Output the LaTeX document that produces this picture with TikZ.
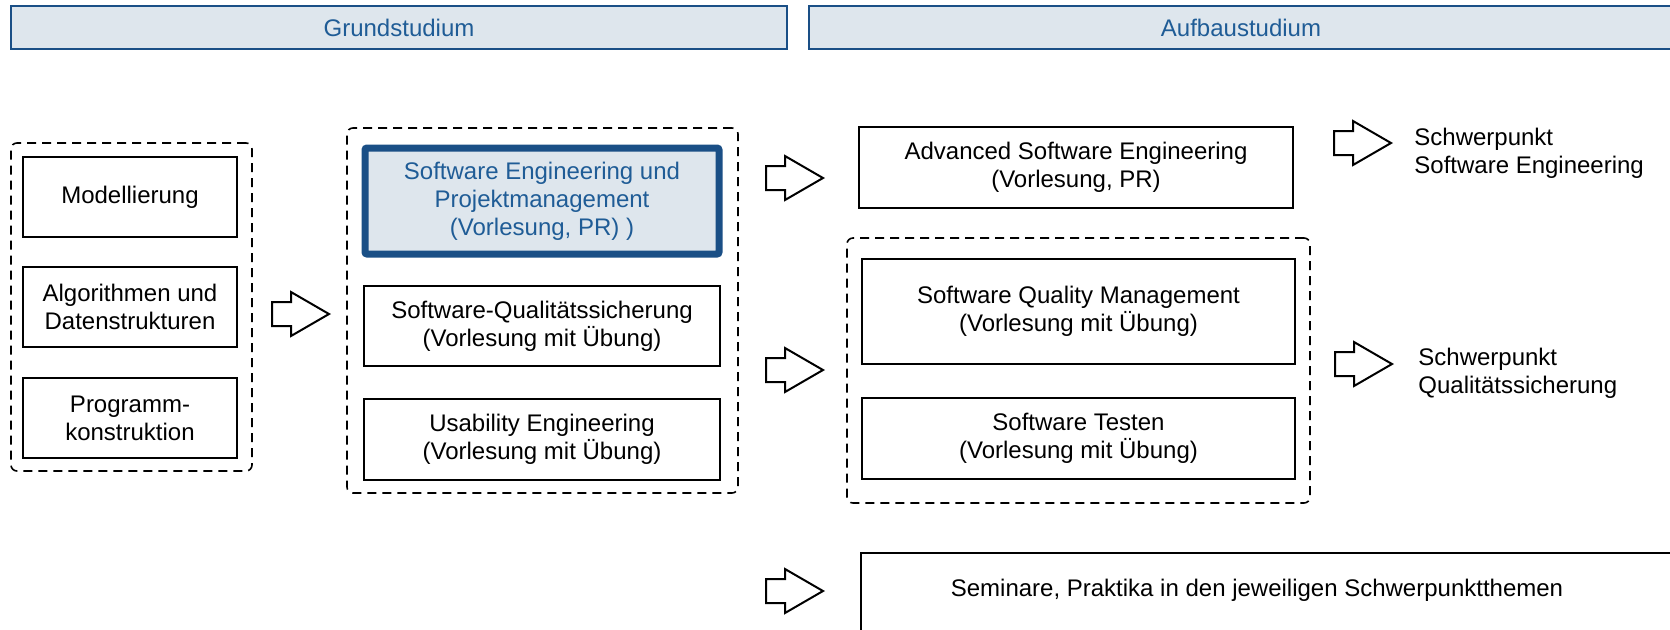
\documentclass[tikz,border=0pt]{standalone}
\usepackage{fontspec}
\setmainfont{Liberation Sans}
\usepackage{tikz}

\definecolor{kopffill}{HTML}{DEE6ED}
\definecolor{kopfblau}{HTML}{1A4F86}
\definecolor{textblau}{HTML}{1F5C96}

\tikzset{
  kurs/.style={draw, line width=1pt, inner sep=0pt, align=center},
  gruppe/.style={draw, dash pattern=on 4.5pt off 3pt, line width=0.8pt, rounded corners=3pt, inner sep=0pt},
  kopf/.style={draw=kopfblau, fill=kopffill, line width=1pt, text=textblau, inner sep=0pt},
  pics/blockpfeil/.style={code={
    \draw[line width=1pt, fill=white] (0,-12) -- (19,-12) -- (19,-22) -- (57,0) -- (19,22) -- (19,12) -- (0,12) -- cycle;
  }}
}

\begin{document}
\begin{tikzpicture}[x=0.5pt, y=-0.5pt, font=\fontsize{12pt}{14pt}\selectfont]
  \useasboundingbox (0,0) rectangle (1670,629);

  % Kopfzeilen
  \node[kopf, minimum width=388pt, minimum height=21.5pt] (grund) at (399,27.5) {Grundstudium};
  \node[kopf, minimum width=432pt, minimum height=21.5pt] (aufbau) at (1241,27.5) {Aufbaustudium};

  % Grundlagen
  \node[gruppe, minimum width=120.5pt, minimum height=164pt] (basis) at (131.5,307) {};
  \node[kurs, minimum width=107pt, minimum height=40pt] (modell) at (130,197) {Modellierung};
  \node[kurs, minimum width=107pt, minimum height=40pt] (algo) at (130,307) {Algorithmen und\\Datenstrukturen};
  \node[kurs, minimum width=107pt, minimum height=40pt] (prog) at (130,418) {Programm-\\konstruktion};

  % Grundstudium Software Engineering
  \node[gruppe, minimum width=195.5pt, minimum height=182.5pt] (segruppe) at (542.5,310.5) {};
  \node[kurs, draw=kopfblau, fill=kopffill, text=textblau, line width=3.5pt, rounded corners=1pt,
        minimum width=177pt, minimum height=53pt] (sepm) at (542,201) {Software Engineering und\\Projektmanagement\\(Vorlesung, PR) )};
  \node[kurs, minimum width=178pt, minimum height=40pt] (sqs) at (542,326) {Software-Qualitätssicherung\\(Vorlesung mit Übung)};
  \node[kurs, minimum width=178pt, minimum height=40.5pt] (usab) at (542,439.5) {Usability Engineering\\(Vorlesung mit Übung)};

  % Aufbaustudium
  \node[kurs, minimum width=217pt, minimum height=40.5pt] (ase) at (1076,167.5) {Advanced Software Engineering\\(Vorlesung, PR)};
  \node[gruppe, minimum width=231.5pt, minimum height=132.5pt] (qsgruppe) at (1078.5,370.5) {};
  \node[kurs, minimum width=216.5pt, minimum height=52.5pt] (sqm) at (1078.5,311.5) {Software Quality Management\\(Vorlesung mit Übung)};
  \node[kurs, minimum width=216.5pt, minimum height=40.5pt] (testen) at (1078.5,438.5) {Software Testen\\(Vorlesung mit Übung)};

  % Seminare, Box geht ueber den Rand
  \draw[line width=1pt] (861,650) |- (1690,553);
  \node (seminar) at (1257,590) {Seminare, Praktika in den jeweiligen Schwerpunktthemen};

  % Schwerpunkte
  \node[anchor=west, align=left, inner sep=0pt] (spse) at (1414,153) {Schwerpunkt\\Software Engineering};
  \node[anchor=west, align=left, inner sep=0pt] (spqs) at (1418,373) {Schwerpunkt\\Qualitätssicherung};

  % Blockpfeile
  \foreach \x/\y in {272/314, 766/178, 766/370, 766/591, 1334/143, 1335/364}
    \pic at (\x,\y) {blockpfeil};
\end{tikzpicture}
\end{document}
